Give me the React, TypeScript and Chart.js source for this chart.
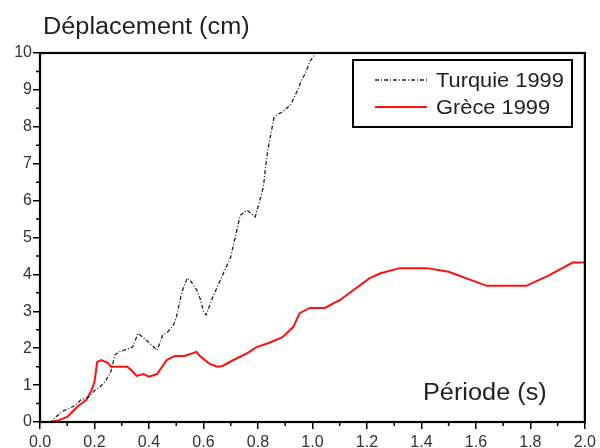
import React, { useEffect, useRef } from "react";
import { Chart, registerables } from "chart.js";

Chart.register(...registerables);

const turquieX = [0, 0.04, 0.06, 0.085, 0.11, 0.13, 0.15, 0.18, 0.2, 0.22, 0.24, 0.26, 0.275, 0.29, 0.31, 0.34, 0.36, 0.39, 0.43, 0.45, 0.47, 0.49, 0.5, 0.52, 0.54, 0.55, 0.575, 0.59, 0.6, 0.61, 0.635, 0.67, 0.7, 0.72, 0.735, 0.76, 0.79, 0.8, 0.82, 0.826, 0.836, 0.85, 0.858, 0.87, 0.89, 0.92, 0.946, 0.96, 0.975, 0.99, 1.01, 1.03];
const turquieY = [0, 0, 0.15, 0.3, 0.38, 0.45, 0.6, 0.68, 0.85, 0.95, 1.1, 1.36, 1.82, 1.9, 1.95, 2.03, 2.4, 2.22, 1.95, 2.35, 2.45, 2.63, 2.82, 3.5, 3.9, 3.85, 3.58, 3.3, 3.0, 2.9, 3.4, 3.98, 4.47, 5.12, 5.6, 5.74, 5.56, 5.83, 6.37, 6.78, 7.37, 7.9, 8.23, 8.33, 8.4, 8.6, 9.0, 9.27, 9.46, 9.76, 9.98, 10.3];

const greceX = [0, 0.04, 0.07, 0.1, 0.135, 0.17, 0.19, 0.2, 0.21, 0.225, 0.25, 0.26, 0.32, 0.335, 0.355, 0.38, 0.4, 0.43, 0.44, 0.465, 0.495, 0.53, 0.575, 0.585, 0.62, 0.65, 0.67, 0.71, 0.76, 0.795, 0.84, 0.89, 0.93, 0.953, 0.99, 1.045, 1.1, 1.21, 1.25, 1.32, 1.42, 1.5, 1.64, 1.785, 1.87, 1.955, 2.0];
const greceY = [0, 0, 0.05, 0.14, 0.4, 0.6, 0.87, 1.09, 1.63, 1.68, 1.6, 1.5, 1.5, 1.41, 1.25, 1.3, 1.23, 1.3, 1.41, 1.68, 1.79, 1.79, 1.9, 1.8, 1.59, 1.5, 1.52, 1.68, 1.86, 2.03, 2.14, 2.3, 2.58, 2.95, 3.09, 3.09, 3.3, 3.9, 4.03, 4.17, 4.17, 4.07, 3.69, 3.69, 3.98, 4.32, 4.32];

const seriesLabels = ["Turquie 1999", "Grèce 1999"];
const yTitle = "Déplacement (cm)";
const xTitle = "Période (s)";

const FONT = "'Liberation Sans', Arial, sans-serif";

function stretchedText(ctx: any, text: string, x: number, y: number, sx: number) {
  ctx.save();
  ctx.translate(x, y);
  ctx.scale(sx, 1);
  ctx.fillText(text, 0, 0);
  ctx.restore();
}

const framePlugin = {
  id: "framePlugin",
  afterDraw(chart: any) {
    const { ctx, chartArea } = chart;
    const { left, right, top, bottom } = chartArea;
    const xs = chart.scales.x;
    const ys = chart.scales.y;
    ctx.save();
    ctx.strokeStyle = "#000";
    // minor ticks
    ctx.lineWidth = 1.5;
    ctx.beginPath();
    for (let v = 0.1; v < 2; v += 0.2) {
      const px = xs.getPixelForValue(v);
      ctx.moveTo(px, bottom);
      ctx.lineTo(px, bottom + 4);
    }
    for (let v = 0.5; v < 10; v += 1) {
      const py = ys.getPixelForValue(v);
      ctx.moveTo(left - 4, py);
      ctx.lineTo(left, py);
    }
    ctx.stroke();
    // frame
    ctx.lineWidth = 2.2;
    ctx.strokeRect(left, top, right - left, bottom - top);

    // titles
    ctx.fillStyle = "#222";
    ctx.textBaseline = "alphabetic";
    ctx.textAlign = "left";
    ctx.font = `23px ${FONT}`;
    stretchedText(ctx, yTitle, 43, 34, 1.1);
    stretchedText(ctx, xTitle, 423, 400, 1.1);

    // legend
    const lx = 353, ly = 60, lw = 219, lh = 67;
    ctx.fillStyle = "#fff";
    ctx.fillRect(lx, ly, lw, lh);
    ctx.lineWidth = 2;
    ctx.strokeStyle = "#000";
    ctx.strokeRect(lx, ly, lw, lh);
    const ds = chart.data.datasets;
    const rows = [80, 107];
    ds.forEach((d: any, i: number) => {
      ctx.save();
      ctx.strokeStyle = d.borderColor;
      ctx.lineWidth = d.borderWidth;
      ctx.setLineDash(d.borderDash || []);
      ctx.beginPath();
      ctx.moveTo(375, rows[i]);
      ctx.lineTo(427, rows[i]);
      ctx.stroke();
      ctx.restore();
      ctx.fillStyle = "#222";
      ctx.font = `21px ${FONT}`;
      ctx.textBaseline = "middle";
      stretchedText(ctx, d.label, 436, rows[i] + 1, 1.04);
    });
    ctx.restore();
  },
};

export default function App() {
  const ref = useRef<HTMLCanvasElement>(null);
  useEffect(() => {
    if (!ref.current) return;
    const chart = new Chart(ref.current, {
      type: "line",
      data: {
        datasets: [
          {
            label: seriesLabels[0],
            data: turquieX.map((x, i) => ({ x, y: turquieY[i] })),
            borderColor: "#222",
            borderWidth: 1.3,
            borderDash: [4, 2, 1, 2],
            pointRadius: 0,
            tension: 0,
            fill: false,
          },
          {
            label: seriesLabels[1],
            data: greceX.map((x, i) => ({ x, y: greceY[i] })),
            borderColor: "#ff1010",
            borderWidth: 2,
            pointRadius: 0,
            tension: 0,
            fill: false,
          },
        ],
      },
      options: {
        animation: false,
        responsive: false,
        maintainAspectRatio: false,
        layout: { padding: { top: 53, right: 14, left: 0, bottom: 0 } },
        plugins: { legend: { display: false }, tooltip: { enabled: false }, title: { display: false } },
        scales: {
          x: {
            type: "linear",
            min: 0,
            max: 2,
            afterFit: (s: any) => { s.height = 26; },
            border: { display: false },
            grid: { drawOnChartArea: false, drawTicks: true, tickLength: 7, color: "#000", lineWidth: 1.5 },
            ticks: {
              stepSize: 0.2,
              padding: 4,
              color: "#333",
              font: { family: FONT, size: 16 },
              maxRotation: 0,
              autoSkip: false,
              callback: (v: any) => Number(v).toFixed(1),
            },
          },
          y: {
            type: "linear",
            min: 0,
            max: 10,
            afterFit: (s: any) => { s.width = 40; },
            border: { display: false },
            grid: { drawOnChartArea: false, drawTicks: true, tickLength: 7, color: "#000", lineWidth: 1.5 },
            ticks: {
              stepSize: 1,
              padding: 1,
              color: "#333",
              font: { family: FONT, size: 16 },
              autoSkip: false,
            },
          },
        },
      },
      plugins: [framePlugin],
    });
    return () => chart.destroy();
  }, []);
  return (
    <div style={{ position: "absolute", left: 0, top: 0, width: 600, height: 448, background: "#fff" }}>
      <canvas ref={ref} width={600} height={448} />
    </div>
  );
}
